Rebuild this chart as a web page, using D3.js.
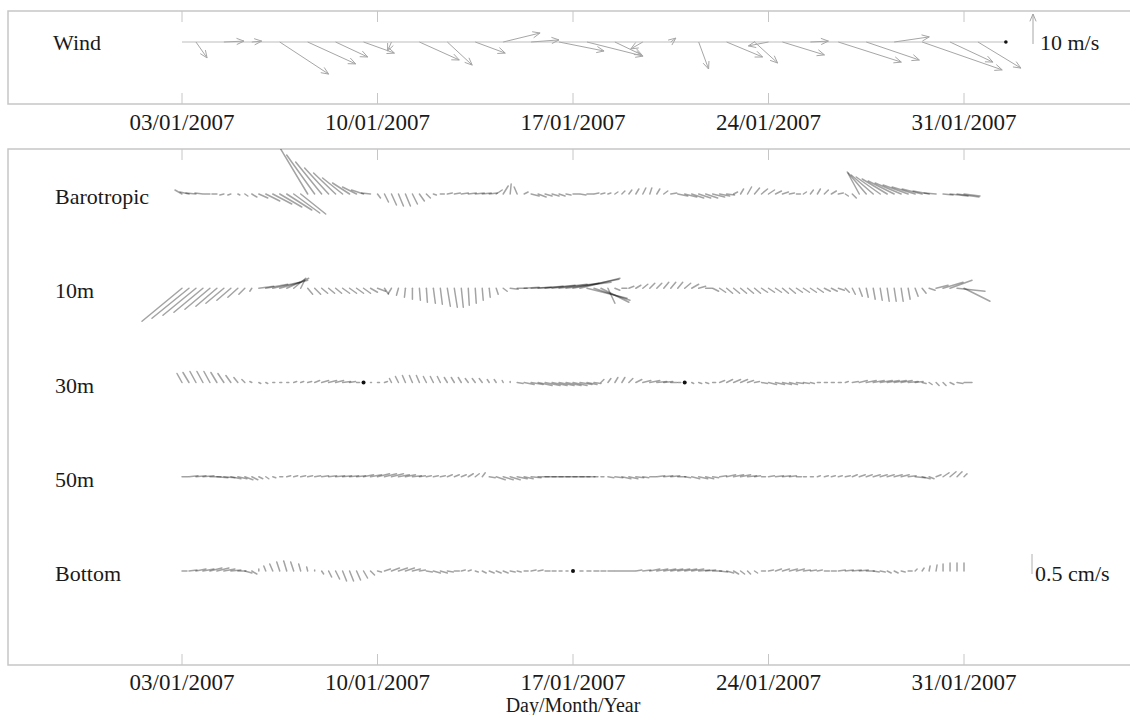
<!DOCTYPE html>
<html>
<head>
<meta charset="utf-8">
<script src="https://cdn.jsdelivr.net/npm/d3@7"></script>
<style>
	body { margin: 0; background: #fff; }
	text { font-family: "Liberation Serif", "DejaVu Serif", serif; fill: #1a1a1a; }
</style>
</head>
<body>
<svg id="chart" width="1130" height="715"></svg>
<script>
// tick days (January 2007) and their labels
var tickDays = [3, 10, 17, 24, 31];
var tickLabels = ['03/01/2007', '10/01/2007', '17/01/2007', '24/01/2007', '31/01/2007'];
var rowNames = ['Barotropic', '10m', '30m', '50m', 'Bottom'];

// wind, m/s (u east, v north), one arrow per listed day of January
var windDays = [3.5, 4.5, 5.5, 6.5, 7.5, 8.5, 9.5, 10.5, 11.5, 12.5, 13.5, 14.5, 15.5, 16.5, 17.5, 18.5, 19.5, 20.5, 21.5, 22.5, 23.5, 24, 24.5, 25.5, 26.5, 27.5, 28.5, 29.5, 30.5, 31.5, 32.5];
var windU = [3.7, 6.7, 3.3, 16.3, 16, 10.7, 10.3, -1.3, 13.3, 8.3, 10, 12.3, 9.3, 15, 18.7, 9, -4, 1.7, 3.3, 12, 7.7, -6.7, 14, 6, 21, 17.7, 11.7, 26.7, 14.3, 14.3, 0];
var windV = [-5.3, 0.3, 0.3, -10.7, -7.3, -5, -3.7, -3, -6, -7.7, -3.7, 3, 0.7, -3, -4.7, -4.3, -2.3, 1.3, -9, -5, -7, -1.3, -4.3, 0.3, -6.7, -6, 1.7, -9.3, -6.7, -8.7, 0];

// currents, mm/s, 6-hourly from 03/01/2007 00:00
var startDay = 3;
var stepDays = 0.25;

var baroU = [-1.75, -2.25, -2.5, -2, -1.5, -1.25, -1, -0.75, 0.5, 0.75,
	1.25, 2.25, 3.5, 4.75, 5.5, 6.25, 6.5, 6.25, -7.5, -7,
	-6.5, -6, -5.5, -5, -4.25, -3.5, -3, -2.25, 0.75, 1,
	1.25, 1.25, 1.25, 1.25, 1.25, 1, 0.75, 1, 1.25, 1.5,
	1.75, 2, 2.25, 2.25, 2, 1.5, 1.25, 0.25, -0.75, 1,
	2, 2, 1.75, 1.75, 1.5, 1.25, 1.5, 1.5, 1.5, 1.25,
	1, 0.75, 0.75, 0.75, 0.75, 0.75, 0.75, 0.5, 0.75, 1,
	1.5, 2.5, 3, 3, 3, 3, 3, 2.5, 2, 1,
	0.75, 1, 1.25, 1.5, 1.5, 1.5, 1.5, 1.25, 1, 0.75,
	0.75, 0.75, 1, 1.25, 1.25, 0.75, 1, -3, -4.5, -5.5,
	-6, -6.25, -6.5, -6.5, -6.25, -5.75, -5, -4, -3, 2.5,
	4.5, 5.5, 4];
var baroV = [1, 0.5, 0.25, 0.25, 0, 0, -0.25, -0.25, -0.25, -0.5,
	-0.75, -1, -1.75, -2.5, -3.25, -4, -4.75, -5, 12.5, 9.75,
	8, 6.5, 5.25, 4, 2.75, 1.75, 1, 0.25, -1, -2,
	-2.75, -3, -3, -2.5, -1.75, -1, -0.25, 0, 0.25, 0.25,
	0.25, 0.25, 0.25, 0.25, 0.25, 1, 2, 2.5, 1.75, 0.5,
	-0.5, -0.75, -0.5, -0.5, -0.5, -0.25, 0, -0.25, 0, 0.25,
	0.25, 0.25, 0.5, 0.75, 1, 1.25, 1.5, 1.5, 1.25, 0.75,
	0.25, -0.5, -0.75, -1, -1, -1, -0.75, -0.5, -0.25, 0.5,
	1.25, 1.75, 1.5, 1.25, 1, 0.75, 0.5, 0.25, 0, 0.5,
	1, 1.25, 1, 0.75, 0.25, -0.5, -1, 5.5, 5.25, 4.75,
	4.25, 3.75, 3.25, 2.75, 2.25, 1.75, 1.25, 0.75, 0.25, -0.25,
	-0.5, -0.75, -0.5];

var m10U = [-10, -9.25, -8.25, -7.25, -6.25, -5.25, -4.5, -3.5, -2.5, -1.5,
	-0.5, 3.75, 5.5, 6.75, 7, 5.5, 3, 1, 1.25, 1.5,
	1.5, 1.5, 1.5, 1.75, 1.75, 1.75, 1.75, 1.75, 2, 1,
	-0.75, -0.5, -0.25, 0, 0.25, 0.25, 0.5, 0.5, 0.75, 0.75,
	0.5, 0.25, 0.25, 0.25, 0.25, 0.5, 1, 2, 2.5, 3.75,
	5, 6.25, 7.5, 8.75, 10, 11.25, 11.5, 10, 10, 9,
	7, 1.75, 1.25, 1.25, 1.25, 1.25, 1.25, 1.25, 1.25, 1.25,
	1.25, 1.25, 1.5, 1.75, 1.75, 1.5, 1.5, 1.5, 1.5, 1.5,
	1.5, 1.5, 1.5, 1.5, 1.5, 1.5, 1.5, 1.5, 1.5, 1.5,
	1.5, 1.5, 1.5, 1.5, 1.5, 1, 0.75, 0.75, 0.5, 0.5,
	0.5, 0.5, 0.5, 0.5, 0.5, 0.75, 1, 1.5, 3, 5,
	5.5, 7, 6.5];
var m10V = [-8.25, -7.5, -6.75, -6, -5.25, -4.5, -3.75, -3, -2.25, -1.5,
	-0.75, 0.5, 1, 1.5, 2, 2.5, 2.5, 2, -1.5, -1.5,
	-1.25, -1.25, -1.25, -1.25, -1.25, -1.25, -1.25, -1, -0.75, -1.5,
	-1.25, -1.75, -2.25, -2.75, -3, -3.5, -3.75, -4, -4.5, -4.75,
	-4.75, -4.25, -3.75, -3, -2.25, -1.5, -0.75, -0.25, 0, 0.25,
	0.25, 0.5, 0.75, 1, 1.25, 1.5, 2.25, 2.5, -2.5, -3,
	-3.5, -3.75, -0.5, 0, 0.5, 0.75, 1, 1.25, 1.25, 1.5,
	1.5, 1.5, 1.25, 1, 0.5, 0, -0.75, -1, -1.25, -1.25,
	-1.25, -1.25, -1.25, -1, -1, -1, -1.25, -1.25, -1, -1,
	-1, -1, -0.75, -0.75, -0.5, -1, -1.5, -2, -2.25, -2.75,
	-3, -3.25, -3.25, -3.25, -2.75, -2, -1.25, -0.5, 0.75, 1.5,
	2, -0.75, -3.25];

var m30U = [-1.25, -1.5, -1.5, -1.5, -1.5, -1.5, -1.5, -1.25, -1, -0.75, -0.5,
	0.5, 0.5, 0.5, 0.5, 0.5, 0.75, 0.75, 1,
	1.25, 1.75, 2, 2, 2, 1.5, 0.75,
	0,
	0.25, 0.5, 0.75,
	-0.5, -0.75, -0.75, -0.75, -0.75, -0.75, -0.75, -0.75, -0.75, -0.75, -0.75, -0.75, -0.75, -0.75, -0.5, -0.5, -0.25, 0,
	1.5, 2.5, 3, 3.5, 3.75, 3.75, 3.75, 3.75, 3.5, 3, 2.5, 1.75,
	0.75, 0.75, 0.75, 0.75, 1,
	1.5, 2, 2.5, 2.5, 2.25, 1.5, 0.75,
	0,
	0.5, 0.75, 0.75, 0.75,
	1.25, 1.5, 1.75, 1.75, 1.5, 1.25,
	1.5, 2, 2.25, 2.25, 2, 1.75, 1.5, 1,
	0.75, 0.75, 0.75, 0.75, 0.75,
	1.5, 2, 2.5, 2.75, 3, 3, 3, 2.75, 2.5, 2,
	1, 0.75, 0.75, 0.75, 1, 1.5, 2];
var m30V = [2.25, 2.5, 2.75, 2.75, 2.75, 2.5, 2.25, 1.75, 1.25, 0.75, 0.25,
	-0.25, -0.25, 0, 0, 0, 0.25, 0.25, 0.25,
	0.5, 0.5, 0.5, 0.5, 0.25, 0.25, 0,
	0,
	0, 0, 0.25,
	1, 1.5, 1.75, 1.75, 1.75, 1.5, 1.5, 1.5, 1.25, 1.25, 1.25, 1, 1, 1, 0.75, 0.75, 0.5, 0.25,
	-0.25, -0.5, -0.5, -0.75, -0.75, -0.75, -0.75, -0.75, -0.75, -0.5, -0.5, -0.25,
	0.75, 1, 1.25, 1.25, 1,
	0.75, 0.5, 0.5, 0.25, 0.25, 0, 0,
	0,
	-0.25, -0.25, -0.25, 0,
	0.5, 0.75, 0.75, 0.75, 0.5, 0.25,
	-0.25, -0.5, -0.5, -0.5, -0.5, -0.25, -0.25, -0.25,
	0, 0, 0, 0, 0.25,
	0.25, 0.5, 0.5, 0.5, 0.5, 0.5, 0.5, 0.5, 0.25, 0.25,
	-0.25, -0.5, -0.75, -0.75, -0.5, -0.25, 0];

var m50U = [1.5, 2.25, 2.5, 2.75, 2.75, 2.75, 2.75, 2.5, 2.25, 2, 1.5, 1,
	0.75, 0.75,
	0.75, 1, 1, 1.25, 1.25, 1.5, 1.75, 2, 2.25, 2.25, 2.25, 2.25,
	2.5, 2.75, 3, 3, 3, 2.75, 2.5, 2.25,
	1.5, 1.25, 1.25, 1.25, 1.25, 1.25, 1.25, 1.25, 1,
	0.75, 1.5, 2.25, 2.5, 2.5, 2.5, 2.25,
	2.5, 2.75, 2.75, 2.75, 2.75, 2.75,
	2.75, 2.5, 2,
	1, 0.75,
	1.5, 2, 2.25, 2.25, 2, 1.5,
	1.5, 2, 2.25, 2.25, 2, 1.5,
	2, 2.25, 2, 1.5,
	1.75, 2.25, 2.5, 2.5, 2.25, 1.5,
	1, 1.5, 2, 2, 1.75, 1.25, 0.75,
	0.75, 0.75, 1, 1, 1, 1.25,
	1.25, 1.5, 1.5, 1.75, 1.75, 1.75, 2, 2, 2,
	2.5, 2, 1.25,
	1.25, 1.5, 1.5, 1.25, 0.75];
var m50V = [0, 0.25, 0.25, 0.25, 0, -0.25, -0.25, -0.5, -0.5, -0.75, -0.75, -0.5,
	-0.5, -0.25,
	0, 0.25, 0.25, 0.25, 0.25, 0.25, 0.25, 0.25, 0.25, 0.25, 0.25, 0.25,
	0.5, 0.5, 0.75, 0.75, 0.75, 0.5, 0.5, 0.25,
	0.25, 0.25, 0.25, 0.25, 0.5, 0.5, 0.5, 0.75, 0.75,
	1, -0.25, -0.75, -0.75, -0.75, -0.5, -0.5,
	-0.25, 0, 0, 0, 0, 0,
	0, 0, 0,
	0, 0,
	-0.25, -0.25, -0.5, -0.5, -0.25, -0.25,
	0, 0.25, 0.25, 0.25, 0, -0.25,
	-0.5, -0.5, -0.5, -0.25,
	0.25, 0.5, 0.5, 0.5, 0.25, 0.25,
	0, 0.25, 0.25, 0.25, 0.25, 0, 0,
	0, 0.25, 0.25, 0.25, 0.25, 0.25,
	0.5, 0.5, 0.5, 0.5, 0.5, 0.5, 0.5, 0.5, 0.25,
	-0.25, -0.5, -0.5,
	0.5, 1, 1.25, 1.25, 0.75];

var bottomU = [1.25, 2, 2.5, 2.75, 3, 3, 2.75, 2.5, 2, 1.75, 1.25,
	0, -0.5, -0.75, -0.75, -0.75, -0.75, -0.5, -0.25, 0,
	0.5, 0.75, 1, 1, 1, 1, 1, 1, 1,
	1.5, 2, 2.25, 2.25, 2, 1.5,
	1.5, 1.75, 1.75, 1.5, 1.25, 1,
	0.75,
	0.75, 1, 1.25, 1.25, 1.25, 1.25, 1,
	1, 1.25, 1.25, 1.25, 1, 0.75, 0.5,
	0,
	0.75, 1, 1.25, 1.25, 1.5, 1.5, 1.5, 1.5, 1.5,
	2, 2.5, 2.75, 3, 3, 3, 3, 3, 2.75, 2.5, 2.25, 2, 1.75, 1.25,
	1, 0.75, 0.75, 1,
	1.25, 1.5, 1.75, 2, 2, 1.75, 1.5, 1.25, 1.25, 1.25,
	1.75, 2, 2.25, 2.25, 2, 1.5, 1.25,
	1, 1, 1, 1,
	0.5, 0.5, 0.25, 0.25, 0, 0, 0, 0];
var bottomV = [0, 0.25, 0.5, 0.5, 0.75, 0.75, 0.5, 0.25, 0, -0.5, -0.75,
	0.5, 1.25, 1.75, 2.25, 2.5, 2.25, 1.75, 1, 0.25,
	-0.75, -1.5, -2, -2.5, -2.5, -2.25, -1.75, -1, -0.25,
	0.5, 0.75, 0.75, 0.75, 0.5, 0.25,
	-0.25, -0.5, -0.5, -0.25, 0, 0.25,
	0.25,
	-0.25, -0.5, -0.5, -0.5, -0.5, -0.25, -0.25,
	0, 0.25, 0.25, 0, 0, 0, 0,
	0,
	0, 0, 0, 0, 0, 0, 0, 0, 0.25,
	0.25, 0.5, 0.5, 0.5, 0.5, 0.5, 0.5, 0.5, 0.25, 0.25, 0, -0.25, -0.5, -0.75,
	-0.75, -0.75, -0.5, 0,
	0.25, 0.5, 0.5, 0.5, 0.5, 0.25, 0.25, 0.25, 0, 0,
	0.25, 0.25, 0.25, 0.25, 0, -0.25, -0.25,
	-0.5, -0.5, -0.25, 0,
	0.5, 0.75, 1.25, 1.5, 1.75, 2, 2, 2];

var currentU = [baroU, m10U, m30U, m50U, bottomU];
var currentV = [baroV, m10V, m30V, m50V, bottomV];

var svg = d3.select('#chart');
var W = 1130, H = 715;
var dayMs = 86400000;

function dayToDate(d) {
	return new Date(Date.UTC(2007, 0, 1) + (d - 1) * dayMs);
}

var x = d3.scaleUtc()
	.domain([dayToDate(3), dayToDate(31)])
	.range([182, 964]);

var rowY = d3.scalePoint()
	.domain(rowNames)
	.range([194, 571]);

// stick length scales
var windLen = d3.scaleLinear().domain([0, 10]).range([0, 30]);
var curLen = d3.scaleLinear().domain([0, 5]).range([0, 20]);

var frameColor = '#c6c6c6';

var panels = [
	{ top: 11, bottom: 104, labelY: 130 },
	{ top: 149, bottom: 665, labelY: 690 }
];

panels.forEach(function (p, pi) {
	svg.append('rect')
		.attr('x', 8)
		.attr('y', p.top)
		.attr('width', W + 20)
		.attr('height', p.bottom - p.top)
		.attr('fill', 'none')
		.attr('stroke', frameColor)
		.attr('stroke-width', 1.5);

	var ticks = svg.append('g').attr('class', 'ticks');
	tickDays.forEach(function (d) {
		var tx = x(dayToDate(d));
		ticks.append('line')
			.attr('x1', tx).attr('x2', tx)
			.attr('y1', p.top).attr('y2', p.top + 11)
			.attr('stroke', frameColor);
		ticks.append('line')
			.attr('x1', tx).attr('x2', tx)
			.attr('y1', p.bottom).attr('y2', p.bottom - 11)
			.attr('stroke', frameColor);
	});

	svg.append('g')
		.selectAll('text')
		.data(tickLabels)
		.enter()
		.append('text')
		.attr('x', function (d, i) { return x(dayToDate(tickDays[i])); })
		.attr('y', p.labelY)
		.attr('text-anchor', 'middle')
		.style('font-size', '23px')
		.text(function (d) { return d; });

	svg.append('clipPath')
		.attr('id', 'clip' + pi)
		.append('rect')
		.attr('x', 8)
		.attr('y', p.top)
		.attr('width', W)
		.attr('height', p.bottom - p.top);
});

svg.append('text')
	.attr('x', x(dayToDate(17)))
	.attr('y', 712)
	.attr('text-anchor', 'middle')
	.style('font-size', '20px')
	.text('Day/Month/Year');

/* Wind panel */
var windY = 42;

function arrowPath(x0, y0, x1, y1) {
	var a = Math.atan2(y1 - y0, x1 - x0),
		h = 8,
		w = 0.4;
	return 'M' + x0 + ',' + y0 + 'L' + x1 + ',' + y1 +
		'M' + (x1 - h * Math.cos(a - w)) + ',' + (y1 - h * Math.sin(a - w)) +
		'L' + x1 + ',' + y1 +
		'L' + (x1 - h * Math.cos(a + w)) + ',' + (y1 - h * Math.sin(a + w));
}

svg.append('line')
	.attr('x1', x(dayToDate(3)))
	.attr('x2', x(dayToDate(windDays[windDays.length - 1])))
	.attr('y1', windY).attr('y2', windY)
	.attr('stroke', '#bdbdbd')
	.attr('stroke-width', 1.2);

var wind = windDays.map(function (d, i) {
	return { t: dayToDate(d), u: windU[i], v: windV[i] };
});

svg.append('g')
	.attr('clip-path', 'url(#clip0)')
	.selectAll('path')
	.data(wind.filter(function (d) { return d.u !== 0 || d.v !== 0; }))
	.enter()
	.append('path')
	.attr('d', function (d) {
		var x0 = x(d.t);
		return arrowPath(x0, windY, x0 + windLen(d.u), windY - windLen(d.v));
	})
	.attr('fill', 'none')
	.attr('stroke', '#a6a6a6')
	.attr('stroke-width', 1);

svg.append('g')
	.selectAll('circle')
	.data(wind.filter(function (d) { return d.u === 0 && d.v === 0; }))
	.enter()
	.append('circle')
	.attr('cx', function (d) { return x(d.t); })
	.attr('cy', windY)
	.attr('r', 1.8)
	.attr('fill', '#111');

svg.append('path')
	.attr('d', arrowPath(1033, windY + 2, 1033, windY + 2 - windLen(10)))
	.attr('fill', 'none')
	.attr('stroke', '#a6a6a6');

svg.append('text')
	.attr('x', 1040)
	.attr('y', windY + 8)
	.style('font-size', '22px')
	.text('10 m/s');

svg.append('text')
	.attr('x', 53)
	.attr('y', windY + 8)
	.style('font-size', '22px')
	.text('Wind');

/* Current panel */
var rows = svg.append('g').attr('clip-path', 'url(#clip1)');

rowNames.forEach(function (name, r) {
	var y0 = rowY(name);
	var data = currentU[r].map(function (u, i) {
		return { t: dayToDate(startDay + i * stepDays), u: u, v: currentV[r][i] };
	});

	var g = rows.append('g').attr('class', 'row');

	g.selectAll('line')
		.data(data.filter(function (d) { return d.u !== 0 || d.v !== 0; }))
		.enter()
		.append('line')
		.attr('x1', function (d) { return x(d.t); })
		.attr('y1', y0)
		.attr('x2', function (d) { return x(d.t) + curLen(d.u); })
		.attr('y2', function (d) { return y0 - curLen(d.v); })
		.attr('stroke', '#000')
		.attr('stroke-opacity', 0.36)
		.attr('stroke-width', 1.5)
		.attr('stroke-linecap', 'round');

	g.selectAll('circle')
		.data(data.filter(function (d) { return d.u === 0 && d.v === 0; }))
		.enter()
		.append('circle')
		.attr('cx', function (d) { return x(d.t); })
		.attr('cy', y0)
		.attr('r', 2)
		.attr('fill', '#111');

	svg.append('text')
		.attr('x', 55)
		.attr('y', y0 + 10)
		.style('font-size', '22px')
		.text(name);
});

// 0.5 cm/s scale bar
svg.append('line')
	.attr('x1', 1032).attr('x2', 1032)
	.attr('y1', 574).attr('y2', 574 - curLen(5))
	.attr('stroke', '#b0b0b0');

svg.append('text')
	.attr('x', 1035)
	.attr('y', 581)
	.style('font-size', '22px')
	.text('0.5 cm/s');
</script>
</body>
</html>
